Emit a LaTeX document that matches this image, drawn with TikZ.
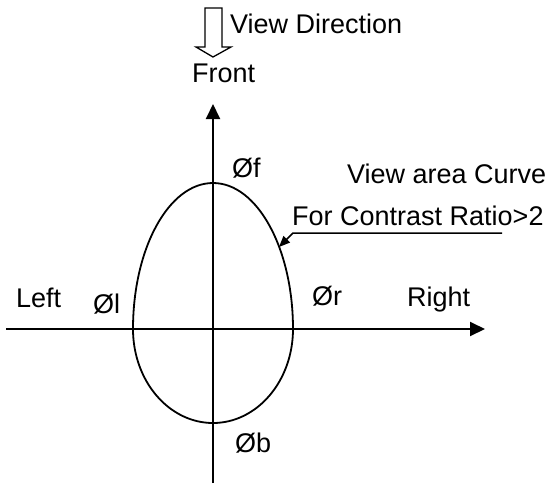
\documentclass[tikz,border=0pt]{standalone}
\usepackage{fontspec}
\setmainfont{Liberation Sans}
\usetikzlibrary{arrows.meta,calc}

\begin{document}
\begin{tikzpicture}[x=1pt,y=-1pt,
    lbl/.style={anchor=base west,inner sep=0pt,font=\fontsize{27}{31}\selectfont},
    axis/.style={line width=2pt,-{Triangle[length=15pt,width=14pt]}},
    egg/.style={line width=1.8pt},
    pointer/.style={line width=1.5pt,-{Triangle[length=11pt,width=9pt]}}
  ]
  \useasboundingbox (0,0) rectangle (552,483);
  % axes
  \coordinate (o) at (213,329);
  \coordinate (xl) at (6,329);
  \coordinate (xr) at (485,329);
  \coordinate (yb) at (213,483);
  \coordinate (yt) at (213,104);
  \draw[axis] (xl) -- (xr);
  \draw[axis] (yb) -- (yt);
  % view area curve
  \draw[egg] ($(o)+(80,0)$) arc[start angle=0,end angle=180,x radius=80,y radius=94]
    arc[start angle=180,end angle=360,x radius=80,y radius=146] -- cycle;
  % view direction arrow
  \draw[line width=1.3pt] (205,8) -- (222,8) -- (222,47) -- (231,47) -- (213,57)
    -- (196,47) -- (205,47) -- cycle;
  \node[lbl] (view) at (230,33) {View Direction};
  \node[lbl] (front) at (192,82) {Front};
  \node[lbl] (phif) at (232,177) {Øf};
  \node[lbl] (phil) at (93,313) {Øl};
  \node[lbl] (phir) at (312,305) {Ør};
  \node[lbl] (phib) at (235,452) {Øb};
  \node[lbl] (left) at (16,307) {Left};
  \node[lbl] (right) at (407,306) {Right};
  \node[lbl] (area) at (347,183) {View area Curve};
  \node[lbl] (ratio) at (292,225) {For Contrast Ratio>2};
  % pointer to the curve
  \coordinate (ulend) at (502,233);
  \coordinate (ulstart) at (293,233);
  \coordinate (onegg) at (279,247);
  \draw[pointer] (ulend) -- (ulstart) -- (onegg);
\end{tikzpicture}
\end{document}
